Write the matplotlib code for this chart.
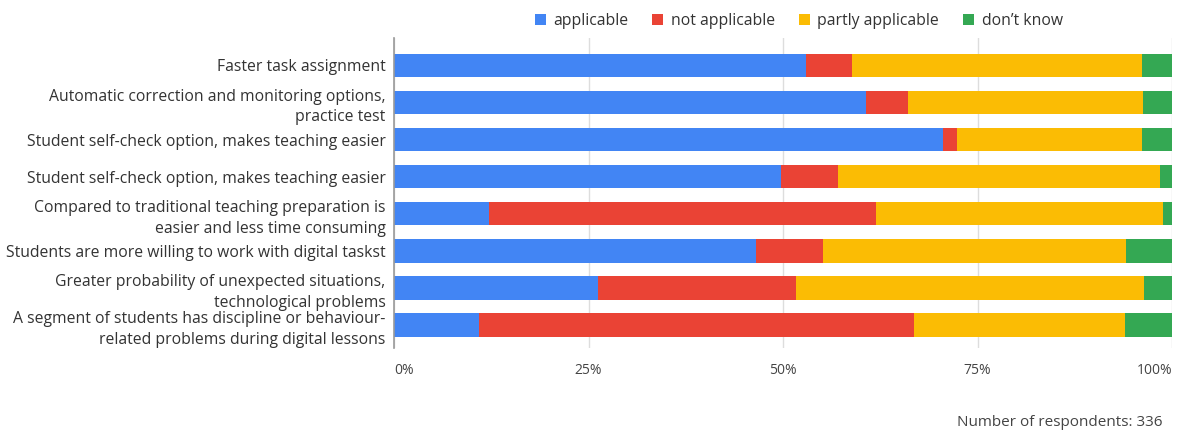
import matplotlib
matplotlib.use("Agg")
import matplotlib.pyplot as plt
import numpy as np
from matplotlib.patches import Patch

plt.rcParams['font.family'] = ['Open Sans', 'DejaVu Sans']

categories = [
    "Faster task assignment",
    "Automatic correction and monitoring options,\npractice test",
    "Student self-check option, makes teaching easier",
    "Student self-check option, makes teaching easier",
    "Compared to traditional teaching preparation is\neasier and less time consuming",
    "Students are more willing to work with digital taskst",
    "Greater probability of unexpected situations,\ntechnological problems",
    "A segment of students has discipline or behaviour-\nrelated problems during digital lessons",
]

# percentages
applicable = [52.9, 60.6, 70.6, 49.7, 12.2, 46.5, 26.2, 10.9]
not_applicable = [6.0, 5.5, 1.8, 7.4, 49.8, 8.6, 25.5, 55.9]
partly_applicable = [37.2, 30.2, 23.7, 41.4, 36.8, 39.0, 44.7, 27.2]
dont_know = [3.9, 3.7, 3.9, 1.5, 1.2, 5.9, 3.6, 6.0]

series = [
    ("applicable", applicable, "#4285F4"),
    ("not applicable", not_applicable, "#EA4335"),
    ("partly applicable", partly_applicable, "#FBBC04"),
    ("don\u2019t know", dont_know, "#34A853"),
]

fig = plt.figure(figsize=(11.84, 4.32), dpi=100)
ax = fig.add_axes([0.3328, 0.1944, 0.6571, 0.7176])

y = np.arange(len(categories))
left = np.zeros(len(categories))
handles = []
for name, vals, col in series:
    vals = np.array(vals, dtype=float)
    ax.barh(y, vals, left=left, height=0.63, color=col, zorder=3)
    left += vals
    handles.append(Patch(facecolor=col, label=name))

ax.set_xlim(0, 100)
ax.set_ylim(7.62, -0.74)
ax.set_yticks(y)
ax.set_yticklabels(categories, fontsize=11.3, color="#333333", linespacing=1.4)
ax.set_xticks([0, 25, 50, 75, 100])
ax.set_xticklabels(["0%", "25%", "50%", "75%", "100%"], fontsize=10, color="#444444")
xlabels = ax.get_xticklabels()
xlabels[0].set_horizontalalignment("left")
xlabels[-1].set_horizontalalignment("right")
ax.tick_params(axis="both", length=0)
ax.tick_params(axis="x", pad=11)
ax.tick_params(axis="y", pad=6)
ax.grid(axis="x", color="#dddddd", linewidth=1, zorder=0)
for s in ["top", "right", "bottom"]:
    ax.spines[s].set_visible(False)
ax.spines["left"].set_color("#999999")
ax.spines["left"].set_linewidth(1.2)
ax.spines["left"].set_zorder(4)

ax.legend(handles=handles, loc="lower center", bbox_to_anchor=(0.52, 0.985), ncol=4,
          frameon=False, fontsize=11.3, handlelength=0.7, handleheight=0.7,
          handletextpad=0.5, columnspacing=1.5, labelcolor="#333333")

fig.text(0.982, 0.004, "Number of respondents: 336", ha="right", va="bottom",
         fontsize=11, color="#444444")

fig.savefig("out.png", dpi=100)
